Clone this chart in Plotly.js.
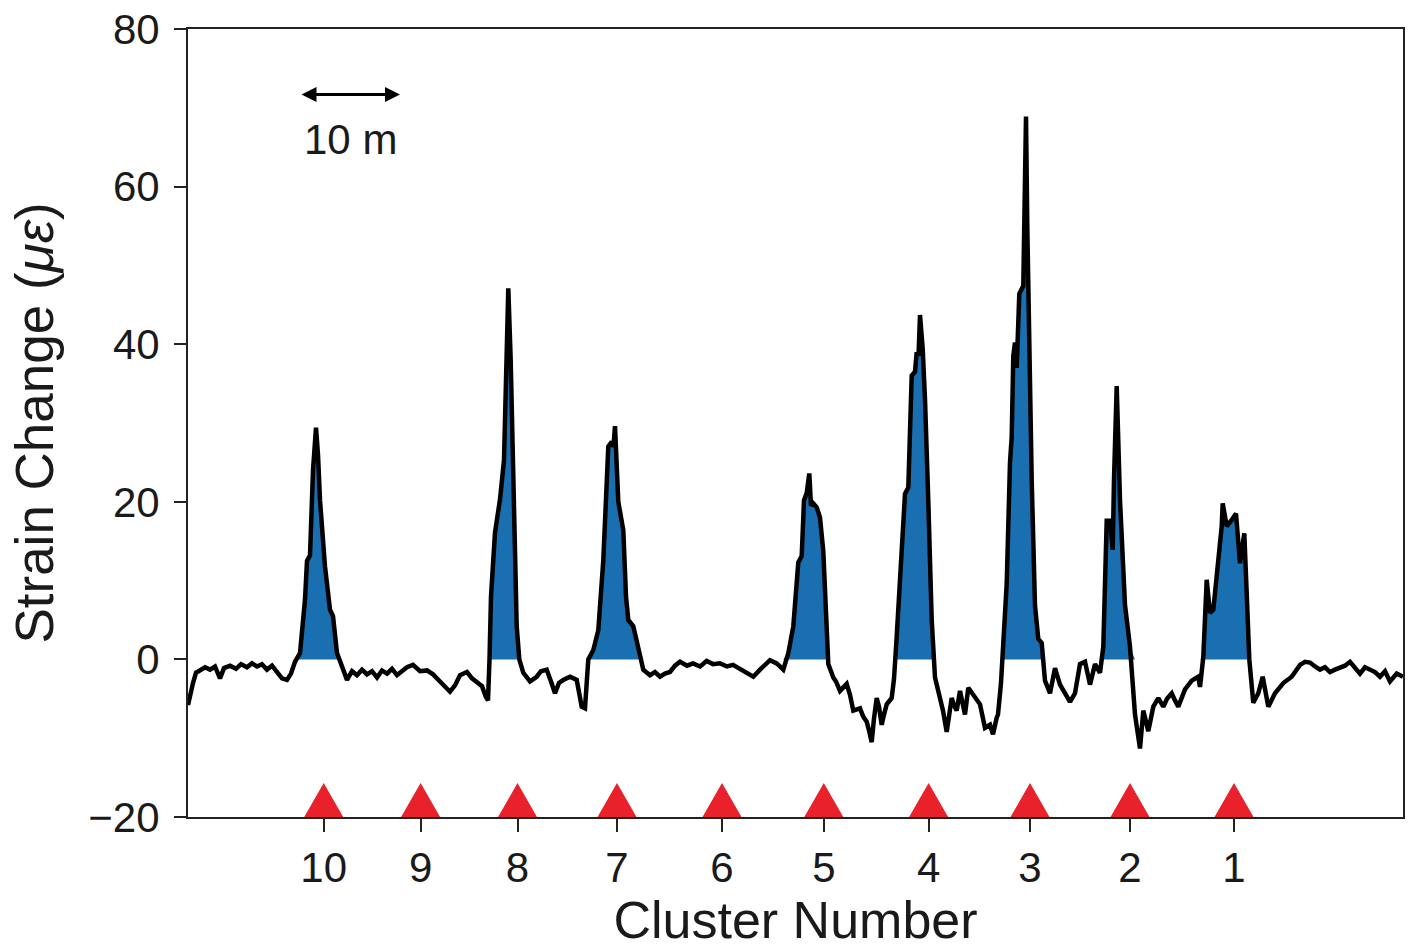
<!DOCTYPE html>
<html>
<head>
<meta charset="utf-8">
<script src="https://cdn.plot.ly/plotly-3.0.1.min.js"></script>
<style>html,body{margin:0;padding:0;background:#fff;}#chart{width:1413px;height:949px;}</style>
</head>
<body>
<div id="chart"></div>
<script>
// Position along the fiber (m) and strain change (microstrain)
const positionM = [
  0.00, 0.20, 0.50, 0.80, 1.20, 1.70, 2.20, 2.70, 3.20, 3.60,
  4.20, 4.80, 5.30, 5.90, 6.40, 6.90, 7.40, 7.90, 8.40, 8.90,
  9.40, 9.90, 10.30, 10.70, 11.20, 11.70, 11.90, 12.20, 12.50, 12.80,
  13.00, 13.20, 13.50, 13.70, 14.20, 14.50, 14.90, 15.40, 15.90, 16.40,
  16.90, 17.40, 17.90, 18.40, 18.90, 19.40, 19.90, 20.40, 20.90, 21.20,
  21.90, 22.50, 23.20, 23.90, 24.50, 25.20, 25.80, 26.20, 26.70, 27.20,
  27.90, 28.40, 28.90, 29.40, 29.80, 30.00, 30.15, 30.30, 30.70, 31.20,
  31.60, 31.87, 32.03, 32.27, 32.53, 32.87, 33.13, 33.53, 34.20, 34.87,
  35.30, 35.87, 36.30, 36.70, 37.10, 37.53, 38.20, 38.87, 39.37, 39.70,
  40.03, 40.53, 41.03, 41.53, 42.03, 42.37, 42.55, 42.70, 43.03, 43.20,
  43.53, 43.80, 44.03, 44.53, 45.03, 45.53, 46.20, 46.70, 47.20, 47.70,
  48.20, 48.70, 49.20, 49.90, 50.50, 51.20, 51.87, 52.50, 53.20, 53.90,
  54.50, 55.20, 55.87, 56.53, 57.20, 57.70, 58.20, 58.87, 59.53, 60.03,
  60.53, 61.03, 61.37, 61.60, 61.87, 62.13, 62.30, 62.53, 62.87, 63.20,
  63.53, 64.03, 64.53, 64.80, 65.20, 65.87, 66.20, 66.53, 67.20, 67.50,
  67.87, 68.10, 68.37, 68.60, 68.87, 69.10, 69.37, 69.60, 69.87, 70.37,
  70.60, 70.87, 71.20, 71.70, 72.03, 72.37, 72.70, 72.87, 73.05, 73.20,
  73.47, 73.70, 74.03, 74.37, 74.70, 75.20, 75.50, 75.87, 76.10, 76.37,
  76.60, 76.87, 77.20, 77.45, 77.70, 78.03, 78.53, 78.90, 79.20, 79.50,
  79.70, 80.20, 80.50, 80.87, 81.00, 81.30, 81.53, 81.87, 82.20, 82.37,
  82.53, 82.70, 82.87, 83.13, 83.53, 83.67, 83.80, 83.93, 84.13, 84.37,
  84.70, 85.03, 85.37, 85.70, 86.20, 86.70, 87.20, 87.70, 88.20, 88.70,
  89.20, 89.70, 90.20, 90.70, 91.20, 91.53, 91.87, 92.20, 92.47, 92.60,
  92.87, 93.20, 93.40, 93.70, 94.20, 94.70, 95.20, 95.53, 96.03, 96.53,
  97.03, 97.53, 97.90, 98.37, 98.70, 99.03, 99.70, 100.37, 101.03, 101.20,
  101.53, 101.70, 101.87, 102.20, 102.53, 103.03, 103.37, 103.47, 103.87, 104.37,
  104.80, 105.20, 105.63, 105.87, 106.13, 106.53, 107.03, 107.47, 108.03, 108.70,
  109.53, 110.37, 111.20, 111.70, 112.20, 112.70, 113.20, 113.70, 114.20, 114.70,
  115.20, 115.70, 116.20, 116.70, 117.20, 117.70, 118.20, 118.70, 119.20, 119.70,
  120.20, 120.87, 121.50
];
const strainChange = [
  -5.8, -4.6, -3.0, -1.7, -1.4, -1.0, -1.3, -0.9, -2.4, -1.1,
  -0.8, -1.2, -0.6, -1.0, -0.5, -0.9, -0.6, -1.3, -0.8, -1.6,
  -2.4, -2.6, -1.8, -0.3, 0.8, 7.6, 12.5, 13.2, 24.0, 29.4,
  26.0, 20.2, 15.0, 11.8, 6.3, 5.5, 0.8, -0.9, -2.6, -1.5,
  -2.0, -1.3, -1.9, -1.5, -2.3, -1.4, -1.8, -1.2, -2.0, -1.7,
  -1.0, -0.7, -1.5, -1.4, -1.9, -2.8, -3.6, -4.1, -3.3, -2.0,
  -1.6, -2.4, -2.9, -3.4, -4.8, -5.2, 0.0, 8.0, 16.1, 20.3,
  25.3, 42.2, 47.1, 38.0, 21.1, 4.2, 0.0, -1.7, -2.8, -2.2,
  -1.5, -1.3, -2.8, -4.3, -3.0, -2.6, -2.2, -2.6, -6.0, -6.2,
  0.0, 1.2, 3.7, 12.6, 27.0, 27.6, 27.0, 29.6, 20.0, 18.9,
  16.4, 8.0, 5.0, 4.2, 1.6, -1.3, -2.0, -1.6, -2.2, -1.8,
  -1.6, -0.8, -0.3, -0.8, -0.5, -0.9, -0.2, -0.6, -0.5, -0.9,
  -0.7, -1.2, -1.8, -2.2, -1.3, -0.6, -0.1, -0.5, -1.3, 0.8,
  4.2, 12.3, 13.1, 20.2, 21.1, 23.6, 19.5, 19.8, 19.3, 18.0,
  13.7, -0.6, -2.3, -2.8, -4.0, -3.1, -4.5, -6.5, -6.2, -7.2,
  -7.9, -9.0, -10.5, -7.5, -4.9, -6.0, -8.3, -7.0, -5.7, -4.9,
  -2.5, 2.9, 9.3, 21.0, 21.8, 36.0, 36.5, 39.0, 38.5, 43.7,
  39.4, 33.0, 20.1, 5.0, -2.3, -4.9, -6.5, -9.2, -7.0, -4.9,
  -5.8, -6.5, -4.0, -5.5, -7.0, -3.6, -4.4, -5.0, -5.7, -7.5,
  -8.7, -8.3, -9.5, -7.4, -7.0, -3.0, 1.6, 9.6, 25.0, 28.2,
  38.5, 40.2, 37.0, 46.4, 47.4, 65.6, 68.9, 54.9, 38.9, 22.8,
  6.8, 2.6, 2.1, -2.7, -4.3, -1.1, -3.2, -4.3, -5.4, -4.3,
  -0.6, -0.3, -3.2, -0.6, -1.7, 1.6, 17.6, 17.6, 13.9, 22.9,
  34.7, 20.2, 14.0, 6.9, 1.6, -7.0, -11.3, -6.5, -9.1, -6.0,
  -4.9, -6.0, -5.0, -4.3, -5.2, -6.0, -3.8, -2.7, -2.2, -3.5,
  0.3, 6.3, 10.1, 5.9, 6.3, 12.6, 16.9, 19.8, 16.9, 17.7,
  18.5, 12.2, 16.0, 8.4, 0.0, -5.5, -4.3, -2.2, -6.0, -4.3,
  -3.0, -2.2, -0.7, -0.3, -0.4, -0.9, -1.3, -1.0, -1.6, -1.3,
  -1.1, -0.8, -0.3, -1.0, -1.8, -1.0, -1.3, -1.6, -2.2, -1.5,
  -2.8, -1.8, -2.2
];
// Cluster positions (m) and their labels
const clusterPositionM = [13.57, 23.26, 32.95, 42.90, 53.40, 63.58, 74.06, 84.20, 94.20, 104.60];
const clusterLabels = ["10", "9", "8", "7", "6", "5", "4", "3", "2", "1"];
const yTicks = [-20, 0, 20, 40, 60, 80];
const scaleBarStartM = 11.2, scaleBarLengthM = 10;

const FONT = "Liberation Sans, Arial, sans-serif";
const positiveStrain = strainChange.map(v => Math.max(v, 0));

// triangle markers drawn as filled polygons at the cluster positions
const triHalfW = 1.95, triH = 4.3, yMin = -20;
const triX = [], triY = [];
clusterPositionM.forEach(c => {
  triX.push(c - triHalfW, c, c + triHalfW, c - triHalfW, null);
  triY.push(yMin, yMin + triH, yMin, yMin, null);
});

const traces = [
  { x: positionM, y: positiveStrain, type: "scatter", mode: "lines",
    line: { width: 0, color: "rgba(0,0,0,0)" }, fill: "tozeroy", fillcolor: "#1a6fb1",
    hoverinfo: "skip", showlegend: false },
  { x: positionM, y: strainChange, type: "scatter", mode: "lines",
    line: { width: 4.5, color: "#000", shape: "linear" }, showlegend: false },
  { x: triX, y: triY, type: "scatter", mode: "lines", fill: "toself",
    fillcolor: "#e8212b", line: { width: 0, color: "#e8212b" },
    showlegend: false, cliponaxis: false }
];

const layout = {
  width: 1413, height: 949,
  margin: { l: 188, r: 10, t: 29, b: 132 },
  paper_bgcolor: "#fff", plot_bgcolor: "#fff",
  font: { family: FONT, color: "#1a1a1a", size: 42 },
  xaxis: {
    range: [0, 121.5], tickmode: "array", tickvals: clusterPositionM, ticktext: clusterLabels,
    ticks: "outside", ticklen: 13, tickwidth: 2, tickcolor: "#222",
    showline: true, linecolor: "#222", linewidth: 2, mirror: true,
    showgrid: false, zeroline: false,
    tickfont: { family: FONT, size: 42, color: "#1a1a1a" },
    ticklabelstandoff: 0,
    title: { text: "Cluster Number", font: { family: FONT, size: 52, color: "#1a1a1a" }, standoff: 22 }
  },
  yaxis: {
    range: [-20, 80], tickmode: "array", tickvals: yTicks,
    ticks: "outside", ticklen: 12, tickwidth: 2, tickcolor: "#222",
    showline: true, linecolor: "#222", linewidth: 2, mirror: true,
    showgrid: false, zeroline: false,
    tickfont: { family: FONT, size: 42, color: "#1a1a1a" },
    ticklabelstandoff: 6,
    title: { text: "Strain Change (<i>με</i>)", font: { family: FONT, size: 53, color: "#1a1a1a" }, standoff: 18 }
  },
  annotations: [
    { x: scaleBarStartM + scaleBarLengthM, y: 71.7, ax: scaleBarStartM, ay: 71.7,
      xref: "x", yref: "y", axref: "x", ayref: "y", text: "", showarrow: true,
      arrowhead: 2, arrowside: "end+start", arrowsize: 1, arrowwidth: 3, arrowcolor: "#000" },
    { x: scaleBarStartM + scaleBarLengthM / 2, y: 66.0, xref: "x", yref: "y",
      text: "10 m", showarrow: false, font: { family: FONT, size: 42, color: "#1a1a1a" } }
  ]
};

Plotly.newPlot("chart", traces, layout, { displayModeBar: false, staticPlot: true });
</script>
</body>
</html>
